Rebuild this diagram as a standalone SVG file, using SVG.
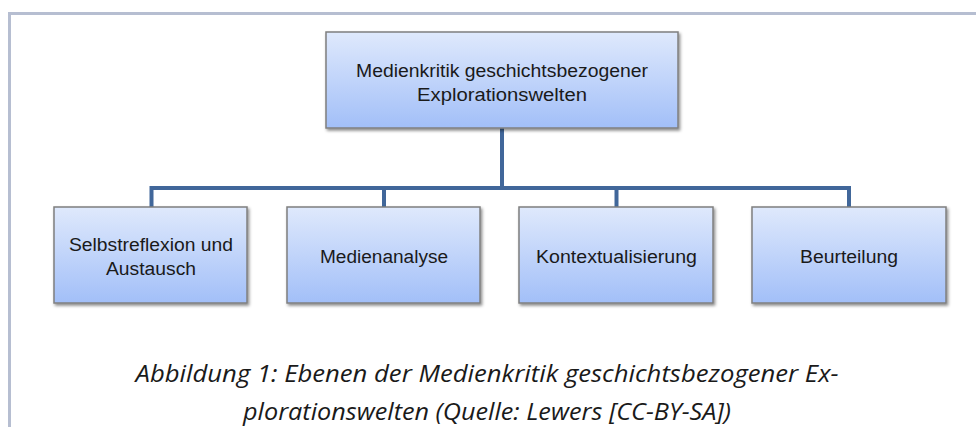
<svg xmlns="http://www.w3.org/2000/svg" width="976" height="427" viewBox="0 0 976 427">
<defs>
<linearGradient id="g" x1="0" y1="0" x2="0" y2="1">
<stop offset="0" stop-color="#dfe9fc"/>
<stop offset="1" stop-color="#a2bff8"/>
</linearGradient>
<filter id="sh" x="-10%" y="-10%" width="120%" height="130%">
<feDropShadow dx="1.5" dy="2" stdDeviation="1.5" flood-color="#000" flood-opacity="0.45"/>
</filter>
<style>
.box{fill:url(#g);stroke:#7f7f7f;stroke-width:1.5;filter:url(#sh)}
.lbl{font-family:"Liberation Sans",Arial,sans-serif;font-size:18px;fill:#1a1a1a;text-anchor:middle}
.cap{font-family:"Open Sans","Liberation Sans",sans-serif;font-style:italic;font-size:24px;fill:#1a1a1a;text-anchor:middle}
.con{fill:none;stroke:#41679a;stroke-width:4;stroke-linejoin:miter}
</style>
</defs>
<rect width="976" height="427" fill="#fff"/>
<path d="M9.5 427 V13.5 H976" fill="none" stroke="#b6bed1" stroke-width="3"/>
<g id="connectors">
<path class="con" d="M502 128 V188"/>
<path class="con" d="M151.5 207 V188 H849 V207"/>
<path class="con" d="M384 207 V188"/>
<path class="con" d="M616.5 207 V188"/>
</g>
<g id="root">
<rect class="box" x="326" y="32" width="352" height="96"/>
<text class="lbl" x="502" y="77" textLength="292" lengthAdjust="spacingAndGlyphs">Medienkritik geschichtsbezogener</text>
<text class="lbl" x="502" y="101" textLength="170" lengthAdjust="spacingAndGlyphs">Explorationswelten</text>
</g>
<g id="n1">
<rect class="box" x="54" y="207" width="193" height="96"/>
<text class="lbl" x="151" y="251" textLength="164" lengthAdjust="spacingAndGlyphs">Selbstreflexion und</text>
<text class="lbl" x="151" y="275" textLength="90" lengthAdjust="spacingAndGlyphs">Austausch</text>
</g>
<g id="n2">
<rect class="box" x="287" y="207" width="193" height="96"/>
<text class="lbl" x="384" y="263" textLength="128" lengthAdjust="spacingAndGlyphs">Medienanalyse</text>
</g>
<g id="n3">
<rect class="box" x="519" y="207" width="194" height="96"/>
<text class="lbl" x="616.5" y="263" textLength="161" lengthAdjust="spacingAndGlyphs">Kontextualisierung</text>
</g>
<g id="n4">
<rect class="box" x="752" y="207" width="194" height="96"/>
<text class="lbl" x="849" y="263" textLength="98" lengthAdjust="spacingAndGlyphs">Beurteilung</text>
</g>
<text class="cap" x="487" y="382" textLength="703" lengthAdjust="spacingAndGlyphs">Abbildung 1: Ebenen der Medienkritik geschichtsbezogener Ex-</text>
<text class="cap" x="487" y="420" textLength="488" lengthAdjust="spacingAndGlyphs">plorationswelten (Quelle: Lewers [CC-BY-SA])</text>
</svg>
